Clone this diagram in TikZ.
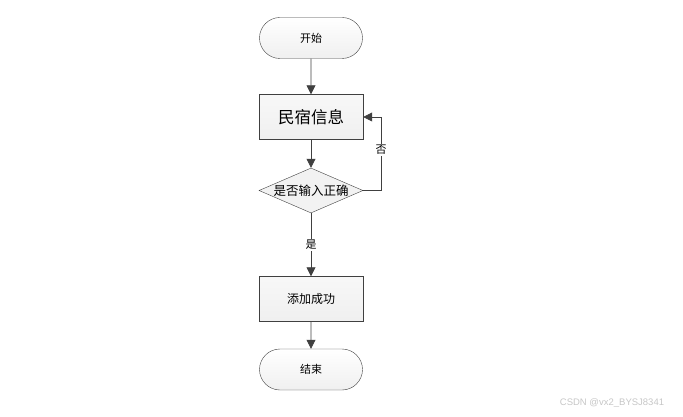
\documentclass[tikz,border=0pt]{standalone}
\usepackage{fontspec}
\setmainfont{Liberation Sans}
\newfontfamily\cjk{Noto Sans CJK SC}
\usetikzlibrary{shapes.geometric,shapes.misc,arrows.meta}
\definecolor{edge}{HTML}{404040}
\tikzset{
  term/.style={draw=edge, rounded rectangle, minimum width=103pt, minimum height=41pt, top color=white, bottom color=gray!12, font=\cjk\fontsize{11}{12}\selectfont, inner sep=0pt},
  procbox/.style={draw=edge, rectangle, minimum width=104pt, minimum height=45pt, top color=gray!6, bottom color=gray!12, font=\cjk\fontsize{11}{12}\selectfont, inner sep=0pt},
  decide/.style={draw=edge, diamond, aspect=2.3, minimum width=104pt, minimum height=45pt, fill=gray!10, font=\cjk\fontsize{12.5}{13}\selectfont, inner sep=0pt},
  conn/.style={draw=edge, line width=0.8pt, -{Triangle[length=9pt,width=9pt]}},
  lab/.style={fill=white, font=\cjk\fontsize{11}{12}\selectfont, inner sep=1pt}
}
\begin{document}
\begin{tikzpicture}[x=1pt,y=-1pt]
\useasboundingbox (0,0) rectangle (683,417);
\node[term] (start) at (311,38) {开始};
\node[procbox, font=\cjk\fontsize{16.5}{18}\selectfont] (info) at (311,117) {民宿信息};
\node[decide] (check) at (311,190.5) {是否输入正确};
\node[procbox, font=\cjk\fontsize{12}{13}\selectfont] (add) at (311,299) {添加成功};
\node[term] (end) at (311,369.5) {结束};
\coordinate (c1) at (381,190.5);
\coordinate (c2) at (381,117);
\draw[conn] (start) -- (info);
\draw[conn] (info) -- (check);
\draw[conn] (check) -- node[lab, pos=0.5] {是} (add);
\draw[conn] (add) -- (end);
\draw[conn] (check.east) -- (c1) -- node[lab, pos=0.55] {否} (c2) -- (info.east);
\node[text=gray!45, font=\fontsize{9.5}{10}\selectfont] (wm) at (612,403) {CSDN @vx2\_BYSJ8341};
\end{tikzpicture}
\end{document}
